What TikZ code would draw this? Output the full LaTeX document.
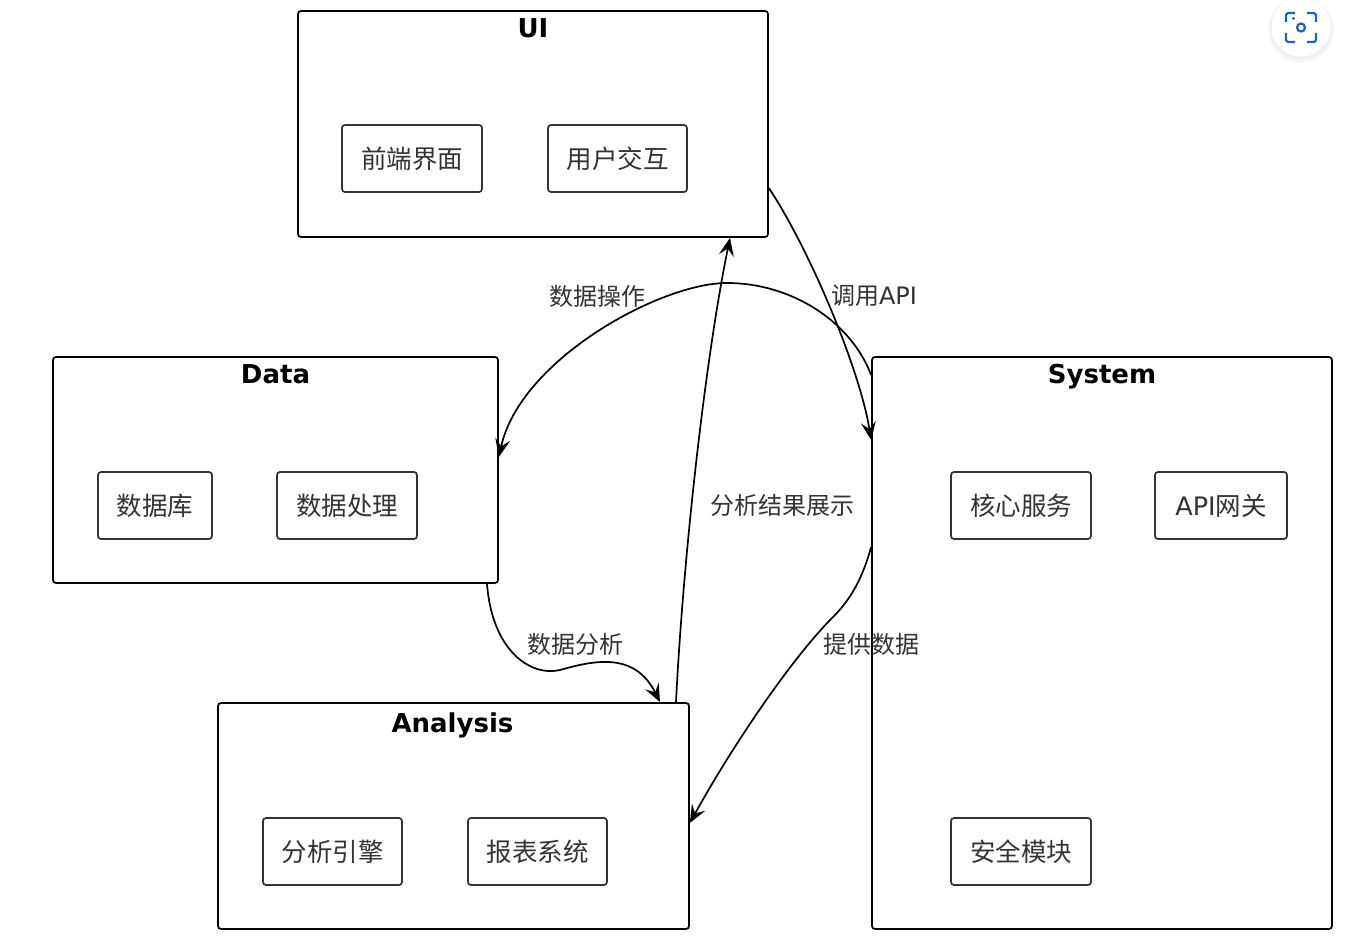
\documentclass[tikz,border=0pt]{standalone}
\usepackage{fontspec}
\setmainfont{DejaVu Sans}
\newfontfamily\cjk{Noto Sans CJK SC}
\usetikzlibrary{arrows.meta}
\definecolor{ink}{HTML}{333333}
\definecolor{iconblue}{RGB}{30,100,190}
\begin{document}
\begin{tikzpicture}[x=1pt,y=-1pt,
  outerbox/.style={draw=black, line width=1.7pt, rounded corners=3pt, inner sep=0pt},
  innerbox/.style={draw=ink, line width=1.7pt, rounded corners=3pt, inner sep=0pt, text=ink,
    font=\cjk\fontsize{25.5}{30}\selectfont, minimum height=67pt},
  titletext/.style={font=\bfseries\fontsize{26}{30}\selectfont, anchor=base, inner sep=0pt},
  lbl/.style={font=\fontsize{24}{28}\selectfont, text=ink, inner sep=0pt},
  conn/.style={draw=black, line width=1.7pt, -{Stealth[length=18pt,width=15pt,inset=7pt]}}
]
\useasboundingbox[fill=white] (0,0) rectangle (1349,949);

% outer boxes
\node[outerbox, minimum width=470pt, minimum height=226pt] (ui) at (533,124) {};
\node[outerbox, minimum width=445pt, minimum height=226pt] (data) at (275.5,470) {};
\node[outerbox, minimum width=460pt, minimum height=572pt] (sys) at (1102,643) {};
\node[outerbox, minimum width=471pt, minimum height=226pt] (ana) at (453.5,816) {};

% titles
\node[titletext] (uit) at (533,38) {UI};
\node[titletext] (datat) at (275.5,384) {Data};
\node[titletext] (syst) at (1102,384) {System};
\node[titletext] (anat) at (452.5,732) {Analysis};

% inner boxes
\node[innerbox, minimum width=140pt] (fe) at (412,158.5) {前端界面};
\node[innerbox, minimum width=139pt] (ux) at (617.5,158.5) {用户交互};
\node[innerbox, minimum width=114pt] (db) at (155,505.5) {数据库};
\node[innerbox, minimum width=140pt] (dp) at (347,505.5) {数据处理};
\node[innerbox, minimum width=140pt] (core) at (1021,505.5) {核心服务};
\node[innerbox, minimum width=132pt] (gw) at (1221,505.5) {\fontspec{DejaVu Sans}API\cjk 网关};
\node[innerbox, minimum width=140pt] (sec) at (1021,851.5) {安全模块};
\node[innerbox, minimum width=139pt] (eng) at (332.5,851.5) {分析引擎};
\node[innerbox, minimum width=139pt] (rep) at (537.5,851.5) {报表系统};

% connectors
\draw[conn] ([yshift=-64pt]ui.east) .. controls (810,250) and (860,370) .. ([yshift=203pt]sys.west);
\draw[conn] ([yshift=268pt]sys.west) .. controls (850,320) and (790,283) .. (727,283)
  .. controls (660,283) and (520,360) .. ([yshift=13pt]data.east);
\draw[conn] ([xshift=222.5pt]ana.north) .. controls (683,560) and (705,360) .. ([xshift=197pt]ui.south);
\draw[conn] ([xshift=211.5pt]data.south) .. controls (492,650) and (530,677) .. (560,670)
  .. controls (595,660) and (635,652) .. ([xshift=206.5pt]ana.north);
\draw[conn] ([yshift=96pt]sys.west) .. controls (862,580) and (850,600) .. (833,617)
  .. controls (790,660) and (730,750) .. ([yshift=-7pt]ana.east);

% labels
\node[lbl] (l1) at (597,296) {\cjk 数据操作};
\node[lbl] (l2) at (874,296) {{\cjk 调用}API};
\node[lbl] (l3) at (782,505) {\cjk 分析结果展示};
\node[lbl] (l4) at (575,644) {\cjk 数据分析};
\node[lbl] (l5) at (871,644) {\cjk 提供数据};

% top-right icon
\fill[black!3] (1301,30) circle[radius=33pt];
\fill[black!6] (1301,29) circle[radius=31pt];
\fill[white] (1301,27) circle[radius=29.5pt];
\begin{scope}[iconblue, line width=2.2pt, rounded corners=2.5pt]
  \draw (1286,22) -- (1286,13) -- (1295,13);
  \draw (1307,13) -- (1316,13) -- (1316,22);
  \draw (1286,33) -- (1286,42) -- (1295,42);
  \draw (1307,42) -- (1316,42) -- (1316,33);
\end{scope}
\draw[iconblue, line width=2.2pt] (1301,27.5) circle[radius=4pt];
\fill[iconblue] (1293.5,18.5) circle[radius=1.6pt];
\end{tikzpicture}
\end{document}
